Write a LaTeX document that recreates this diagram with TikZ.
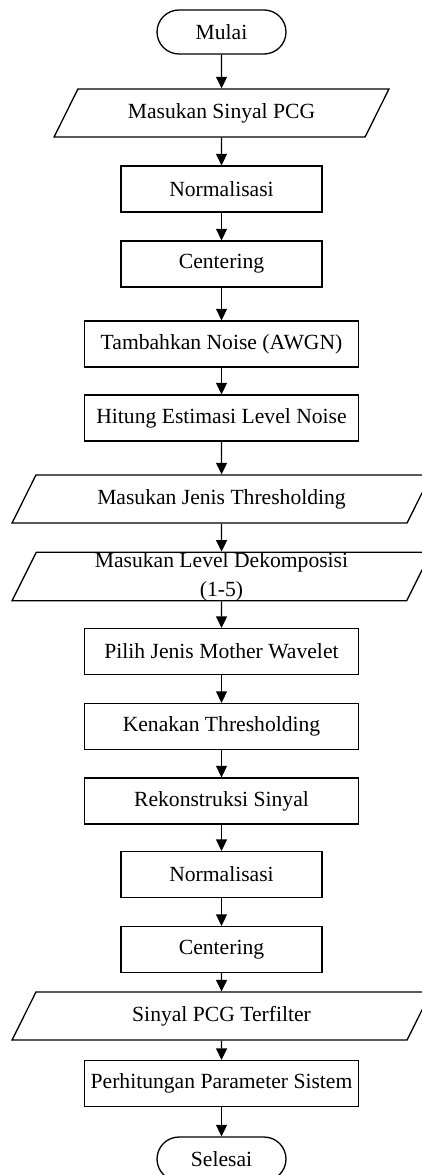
\documentclass[tikz,border=0pt]{standalone}
\usepackage{fontspec}
\setmainfont{Liberation Serif}
\usepackage{tikz}
\usetikzlibrary{arrows.meta,shapes.geometric}

\begin{document}
\begin{tikzpicture}[x=0.02cm,y=-0.02cm,
    font=\fontsize{12.3}{16.5}\selectfont,
    every node/.style={draw, line width=0.75pt, inner sep=2pt},
    terminal/.style={rectangle, rounded corners=0.44cm, minimum width=2.58cm, minimum height=0.88cm},
    prosesA/.style={rectangle, minimum width=4.02cm, minimum height=0.92cm},
    prosesB/.style={rectangle, minimum width=5.48cm, minimum height=0.92cm},
    masukan/.style={trapezium, trapezium left angle=63.4, trapezium right angle=116.6,
                    trapezium stretches body, text height=9pt, text depth=3pt,
                    inner ysep=7.6pt, minimum height=0.96cm},
    panah/.style={-{Triangle[length=0.23cm,width=0.22cm]}, line width=0.75pt}]

  \useasboundingbox (0,0) rectangle (422,1175);

  \def\cx{221.5}

  % simpul
  \node[terminal] (mulai)   at (\cx,32)    {Mulai};
  \node[masukan, minimum width=6.7cm] (sinyal) at (\cx,113) {Masukan Sinyal PCG};
  \node[prosesA] (norm)     at (\cx,189)   {Normalisasi};
  \node[prosesA] (center)   at (\cx,264)   {Centering};
  \node[prosesB] (noise)    at (\cx,344)   {Tambahkan Noise (AWGN)};
  \node[prosesB] (estimasi) at (\cx,418)   {Hitung Estimasi Level Noise};
  \node[masukan, minimum width=8.38cm] (jenis) at (\cx,499) {Masukan Jenis Thresholding};
  \node[masukan, minimum width=8.38cm, inner sep=0pt, text height=, text depth=, align=center] (level) at (\cx,576.5)
       {Masukan Level Dekomposisi\\(1-5)};
  \node[prosesB] (wavelet)  at (\cx,651.5) {Pilih Jenis Mother Wavelet};
  \node[prosesB] (thresh)   at (\cx,726.5) {Kenakan Thresholding};
  \node[prosesB] (rekon)    at (\cx,801)   {Rekonstruksi Sinyal};
  \node[prosesA] (norm2)    at (\cx,874.5) {Normalisasi};
  \node[prosesA] (center2)  at (\cx,949.5) {Centering};
  \node[masukan, minimum width=8.38cm] (hasil) at (\cx,1016) {Sinyal PCG Terfilter};
  \node[prosesB] (param)    at (\cx,1083.5) {Perhitungan Parameter Sistem};
  \node[terminal] (selesai) at (\cx,1159)  {Selesai};

  % panah
  \draw[panah] (mulai) -- (sinyal);
  \draw[panah] (sinyal) -- (norm);
  \draw[panah] (norm) -- (center);
  \draw[panah] (center) -- (noise);
  \draw[panah] (noise) -- (estimasi);
  \draw[panah] (estimasi) -- (jenis);
  \draw[panah] (jenis) -- (level);
  \draw[panah] (level) -- (wavelet);
  \draw[panah] (wavelet) -- (thresh);
  \draw[panah] (thresh) -- (rekon);
  \draw[panah] (rekon) -- (norm2);
  \draw[panah] (norm2) -- (center2);
  \draw[panah] (center2) -- (hasil);
  \draw[panah] (hasil) -- (param);
  \draw[panah] (param) -- (selesai);

\end{tikzpicture}
\end{document}
